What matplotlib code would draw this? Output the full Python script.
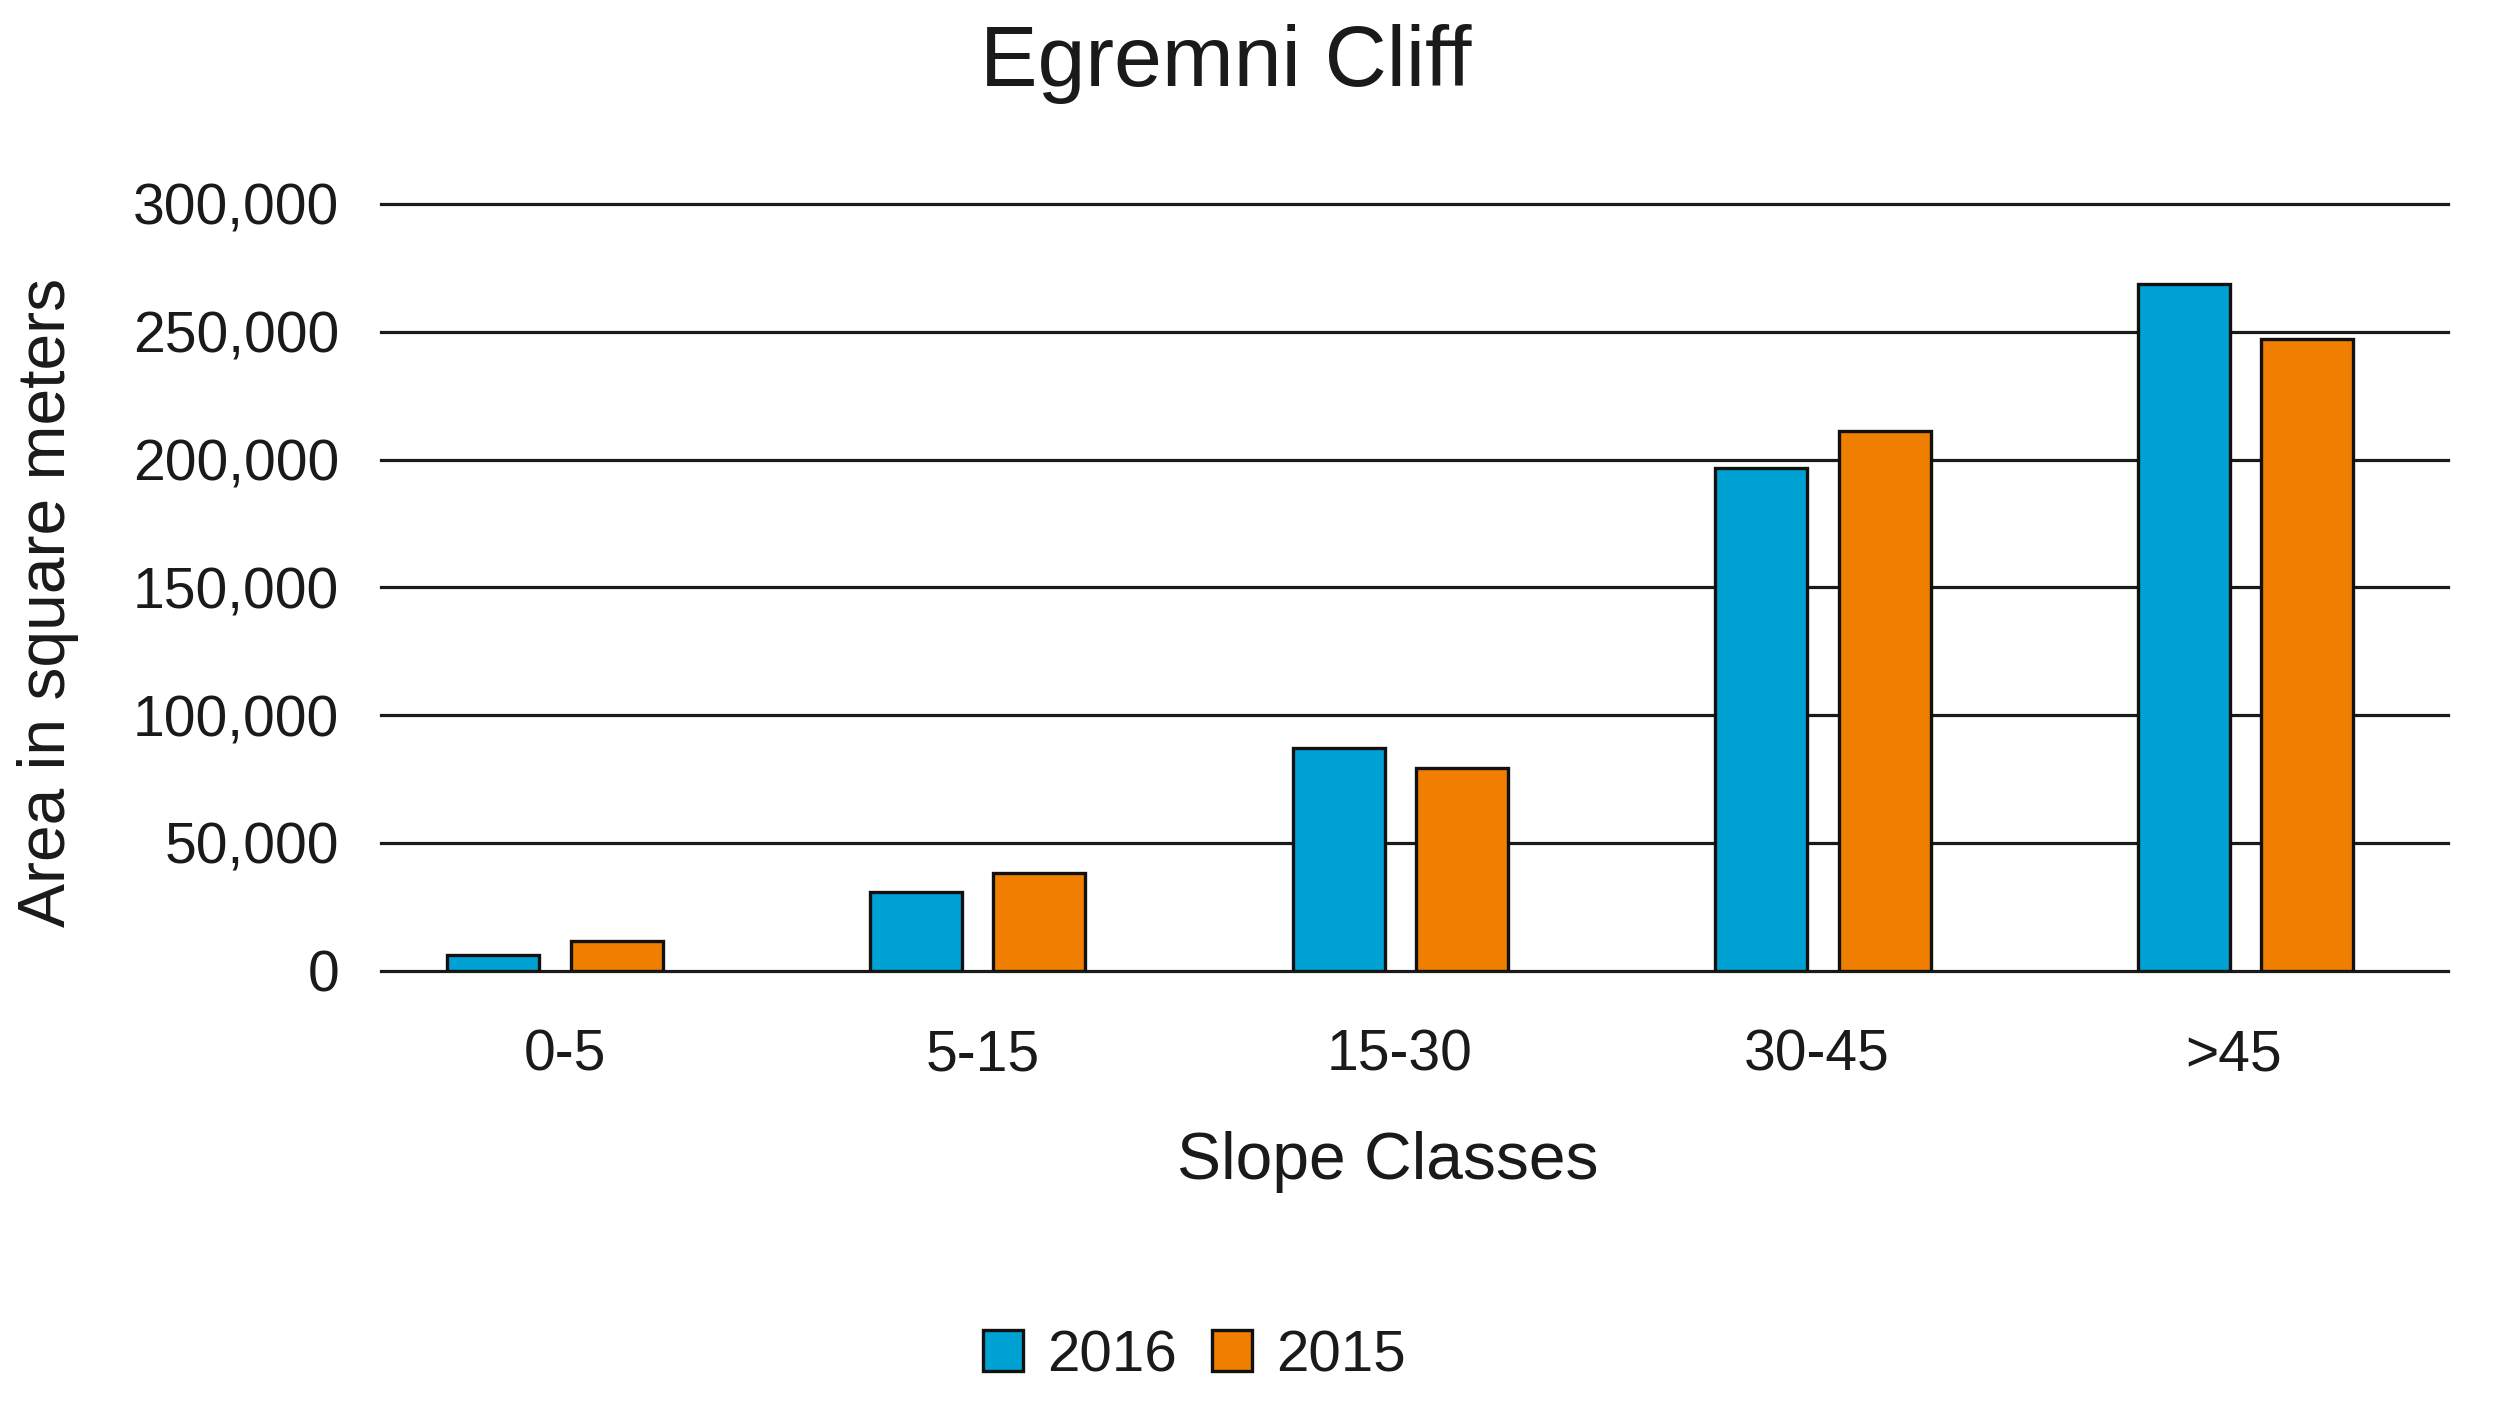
import matplotlib
matplotlib.use("Agg")
import matplotlib.pyplot as plt
import numpy as np
from matplotlib.ticker import FuncFormatter

categories = ['0-5', '5-15', '15-30', '30-45', '>45']
values_2016 = [5900, 30600, 87000, 196500, 268800]
values_2015 = [11400, 38000, 79100, 211300, 247000]
series_labels = ['2016', '2015']
yticks = [0, 50000, 100000, 150000, 200000, 250000, 300000]

plt.rcParams['font.family'] = ['Liberation Sans', 'DejaVu Sans']

W, H = 2496, 1412
fig = plt.figure(figsize=(W / 100, H / 100), dpi=100)
ax = fig.add_axes([381 / W, 1 - 970.5 / H, (2448 - 381) / W, (970.5 - 204) / H])

blue = '#00A1D3'
orange = '#F07E00'
x = np.arange(len(categories))
bw = 0.218
off = 0.146
b1 = ax.bar(x - off, values_2016, bw, color=blue, edgecolor='#111111', linewidth=2.4, zorder=3, label=series_labels[0])
b2 = ax.bar(x + off, values_2015, bw, color=orange, edgecolor='#111111', linewidth=2.4, zorder=3, label=series_labels[1])

ax.set_xlim(-0.412, 4.479)
ax.set_ylim(0, 300000)
ax.set_yticks(yticks)
ax.yaxis.set_major_formatter(FuncFormatter(lambda v, p: f"{int(v):,}"))
ax.set_xticks(0.024 + x * 0.987)
ax.set_xticklabels(categories)
ax.tick_params(axis='both', length=0, labelsize=41, colors='#1a1a1a')
ax.tick_params(axis='y', pad=30)
ax.tick_params(axis='x', pad=42)
for s in ax.spines.values():
    s.set_visible(False)
ax.grid(axis='y', color='#1a1a1a', linewidth=2.3, zorder=1)
ax.set_axisbelow(True)
for gl in ax.get_ygridlines():
    gl.set_clip_on(False)

fig.text(1226 / W, 1 - 64 / H, 'Egremni Cliff', ha='center', va='center', fontsize=62, color='#1a1a1a')
fig.text(1388 / W, 1 - 1162 / H, 'Slope Classes', ha='center', va='center', fontsize=47.5, color='#1a1a1a')
fig.text(48 / W, 1 - ((175 + 582) / 2 * 1.592) / H, 'Area in square meters', ha='center', va='center',
         rotation=90, fontsize=47.5, color='#1a1a1a')

leg = fig.legend(handles=[b1, b2], labels=series_labels, loc='center', bbox_to_anchor=(1194 / W, 1 - 1356 / H),
                 ncol=2, frameon=False, fontsize=42, handlelength=0.7, handleheight=0.7,
                 handletextpad=0.4, columnspacing=0.6, labelcolor='#1a1a1a')

fig.savefig('out.png', dpi=100, facecolor='white')
